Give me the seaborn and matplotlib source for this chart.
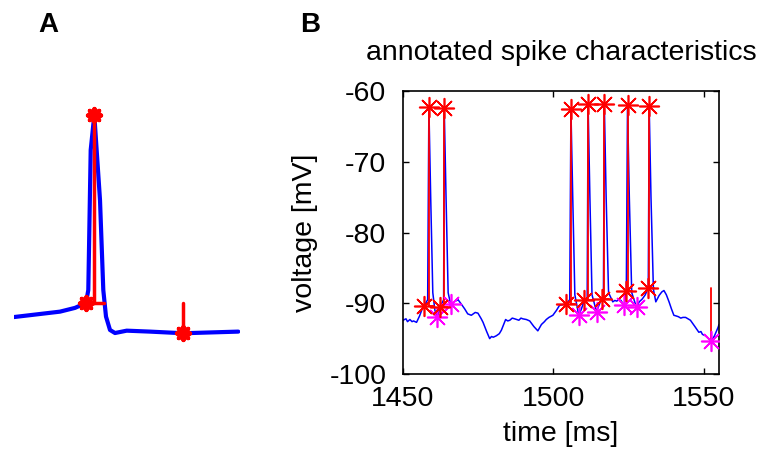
import matplotlib
matplotlib.use("Agg")
import pandas as pd
import seaborn as sns
from matplotlib import pyplot as plt

# ---- panel A: single spike (ms, mV) ----
a_time = [0.0, 4.6, 6.1, 7.2, 7.43, 7.67, 8.03, 8.6, 8.93, 9.2, 9.6, 10.1, 11.27, 13.6, 16.93, 22.43]
a_volt = [-56.0, -53.7, -52.1, -50.0, -44.5, 15.1, 30.0, -6.2, -44.5, -55.8, -61.5, -62.8, -61.8, -62.2, -62.9, -62.2]
a_peak = (8.03, 30.0)
a_thresh = (7.2, -50.0)
a_ahp = (16.93, -62.9)
a_width_end = 9.0

# ---- panel B: voltage trace ----
b_time = [1450.0, 1451.0, 1451.5, 1452.3, 1453.0, 1453.5, 1454.5, 1455.5, 1456.2, 1457.0, 1458.2, 1458.6,
          1459.2, 1459.9, 1460.6, 1461.4, 1462.3, 1463.5, 1463.7, 1464.3, 1465.0, 1465.8,
          1467.0, 1468.3, 1469.5, 1470.5, 1471.5, 1472.7, 1474.0, 1474.9, 1476.0, 1476.6,
          1477.8, 1478.8, 1479.4, 1480.0, 1481.0, 1482.0, 1482.7, 1484.1, 1484.8, 1485.5, 1486.3, 1487.1, 1488.5,
          1489.2, 1489.8, 1491.0, 1492.1, 1493.5, 1494.8, 1496.0, 1497.0, 1497.6, 1498.5, 1499.8, 1501.0, 1502.0,
          1503.0, 1504.2, 1505.4, 1505.8, 1506.4, 1507.1, 1508.4, 1509.3, 1510.2, 1511.2,
          1511.5, 1512.1, 1512.8, 1514.3, 1515.1, 1516.0, 1516.6, 1516.9, 1517.5, 1518.3,
          1519.7, 1520.4, 1521.0, 1521.7, 1522.4, 1523.5, 1524.2, 1524.6, 1525.2, 1526.0, 1527.6, 1528.5,
          1529.5, 1530.5, 1531.5, 1531.8, 1532.4, 1533.2, 1534.0, 1535.1, 1536.0, 1536.7,
          1537.5, 1538.4, 1539.2, 1540.0, 1540.8, 1541.5, 1542.3, 1543.0, 1543.9, 1544.7, 1545.5, 1547.0, 1548.3,
          1549.0, 1549.5, 1550.5, 1551.5, 1552.5, 1553.5, 1554.7, 1555.0]
b_volt = [-92.4, -92.2, -92.6, -92.3, -92.6, -92.5, -92.7, -91.8, -91.0, -90.4, -89.5, -62.2,
          -75.0, -88.5, -91.0, -92.0, -90.6, -89.5, -62.4, -75.0, -88.5, -90.1,
          -89.8, -89.5, -90.2, -90.8, -91.5, -91.7, -91.3, -91.4, -92.2, -92.7,
          -94.0, -95.0, -94.7, -94.8, -94.6, -94.3, -93.8, -92.3, -92.5, -92.4, -92.1, -92.2, -92.4,
          -92.1, -92.2, -92.3, -92.5, -93.3, -93.9, -93.0, -92.6, -92.3, -92.0, -91.7, -91.0, -90.3,
          -90.2, -90.1, -89.5, -62.6, -75.0, -88.8, -91.7, -90.8, -89.6, -89.2,
          -61.8, -75.0, -88.8, -91.2, -90.3, -89.4, -89.0, -61.9, -75.0, -88.5,
          -89.8, -89.6, -89.7, -89.5, -89.6, -90.3, -88.2, -62.0, -75.0, -88.5, -90.6, -89.8,
          -89.4, -88.8, -87.8, -62.1, -75.0, -88.0, -89.8, -88.9, -88.4, -88.2,
          -88.8, -89.8, -90.8, -91.7, -91.8, -91.9, -92.1, -92.0, -92.0, -92.2, -92.4, -93.3, -94.1,
          -94.0, -94.4, -94.6, -95.0, -95.3, -94.6, -93.4, -93.0]

# annotated spikes
peak_t = [1458.6, 1463.7, 1505.8, 1511.5, 1516.9, 1524.6, 1531.8]
peak_v = [-62.2, -62.4, -62.6, -61.8, -61.9, -62.0, -62.1]
thresh_t = [1457.0, 1462.3, 1504.2, 1510.2, 1516.0, 1524.2, 1531.5]
thresh_v = [-90.4, -90.6, -90.1, -89.6, -89.4, -88.2, -87.8]
trough_t = [1461.4, 1465.8, 1508.4, 1514.3, 1523.5, 1527.6, 1552.4]
trough_v = [-92.0, -90.1, -91.7, -91.2, -90.3, -90.6, -95.4]
last_ahp_top = -87.9
width_len = 1.5

blue = "#0000ff"
red = "#ff0000"
magenta = "#ff00ff"
asterisk = (8, 2, 0)

sns.set_style("ticks")
plt.rcParams["font.family"] = ["Liberation Sans", "DejaVu Sans"]
plt.rcParams["axes.unicode_minus"] = False
plt.rcParams["text.color"] = "black"
plt.rcParams["axes.labelcolor"] = "black"
plt.rcParams["xtick.color"] = "black"
plt.rcParams["ytick.color"] = "black"
plt.rcParams["axes.edgecolor"] = "black"

fig = plt.figure(figsize=(7.62, 4.59), dpi=100)

# Panel A
axA = fig.add_axes([14 / 762, 114 / 459, 226 / 762, 245 / 459])
dfA = pd.DataFrame({"t": a_time, "v": a_volt})
sns.lineplot(data=dfA, x="t", y="v", ax=axA, color=blue, lw=3, sort=False, estimator=None)
axA.plot([a_peak[0], a_peak[0]], [a_thresh[1], a_peak[1]], color=red, lw=2.5)
axA.plot([a_peak[0], a_width_end], [a_thresh[1], a_thresh[1]], color=red, lw=2.5)
axA.plot([a_ahp[0], a_ahp[0]], [a_thresh[1], a_ahp[1]], color=red, lw=2.5)
mkA = pd.DataFrame({"t": [a_peak[0], a_thresh[0], a_ahp[0]], "v": [a_peak[1], a_thresh[1], a_ahp[1]]})
sns.scatterplot(data=mkA, x="t", y="v", ax=axA, color=red, marker=asterisk, s=90, linewidth=3, zorder=5)
axA.set_xlim(0, 22.6)
axA.set_ylim(-67.9, 36.4)
axA.axis("off")

# Panel B
ax = fig.add_axes([403 / 762, 85 / 459, 316 / 762, 283 / 459])
dfB = pd.DataFrame({"time": b_time, "voltage": b_volt})
sns.lineplot(data=dfB, x="time", y="voltage", ax=ax, color=blue, lw=1.1, sort=False, estimator=None)

for pt, pv, tt, tv in zip(peak_t, peak_v, thresh_t, thresh_v):
    ax.plot([pt, pt], [tv, pv], color=red, lw=1.3, zorder=3)
    ax.plot([pt, pt + width_len], [tv, tv], color=red, lw=1.3, zorder=3)
ax.plot([trough_t[-1], trough_t[-1]], [last_ahp_top, trough_v[-1]], color=red, lw=1.3, zorder=3)

sns.scatterplot(x=peak_t, y=peak_v, ax=ax, color=red, marker=asterisk, s=200, linewidth=1.2, zorder=5)
sns.scatterplot(x=thresh_t, y=thresh_v, ax=ax, color=red, marker=asterisk, s=200, linewidth=1.2, zorder=5)
sns.scatterplot(x=trough_t, y=trough_v, ax=ax, color=magenta, marker=asterisk, s=200, linewidth=1.2, zorder=4)

ax.set_xlim(1450, 1555)
ax.set_ylim(-100, -60)
ax.set_xticks([1450, 1500, 1550])
ax.set_yticks([-100, -90, -80, -70, -60])
ax.tick_params(direction="in", length=4, width=1, top=True, right=True, labelsize=20.5)
ax.tick_params(axis="y", pad=12)
ax.tick_params(axis="x", pad=9)
for s in ax.spines.values():
    s.set_linewidth(1.2)
    s.set_visible(True)
ax.set_title("annotated spike characteristics", fontsize=20.5, pad=22)
ax.set_xlabel("time [ms]", fontsize=20.5, labelpad=6)
ax.set_ylabel("voltage [mV]", fontsize=20.5, labelpad=8)

fig.text(38 / 762, 1 - 32 / 459, "A", fontsize=20, fontweight="bold")
fig.text(300 / 762, 1 - 32 / 459, "B", fontsize=20, fontweight="bold")

fig.savefig("out.png", dpi=100)
